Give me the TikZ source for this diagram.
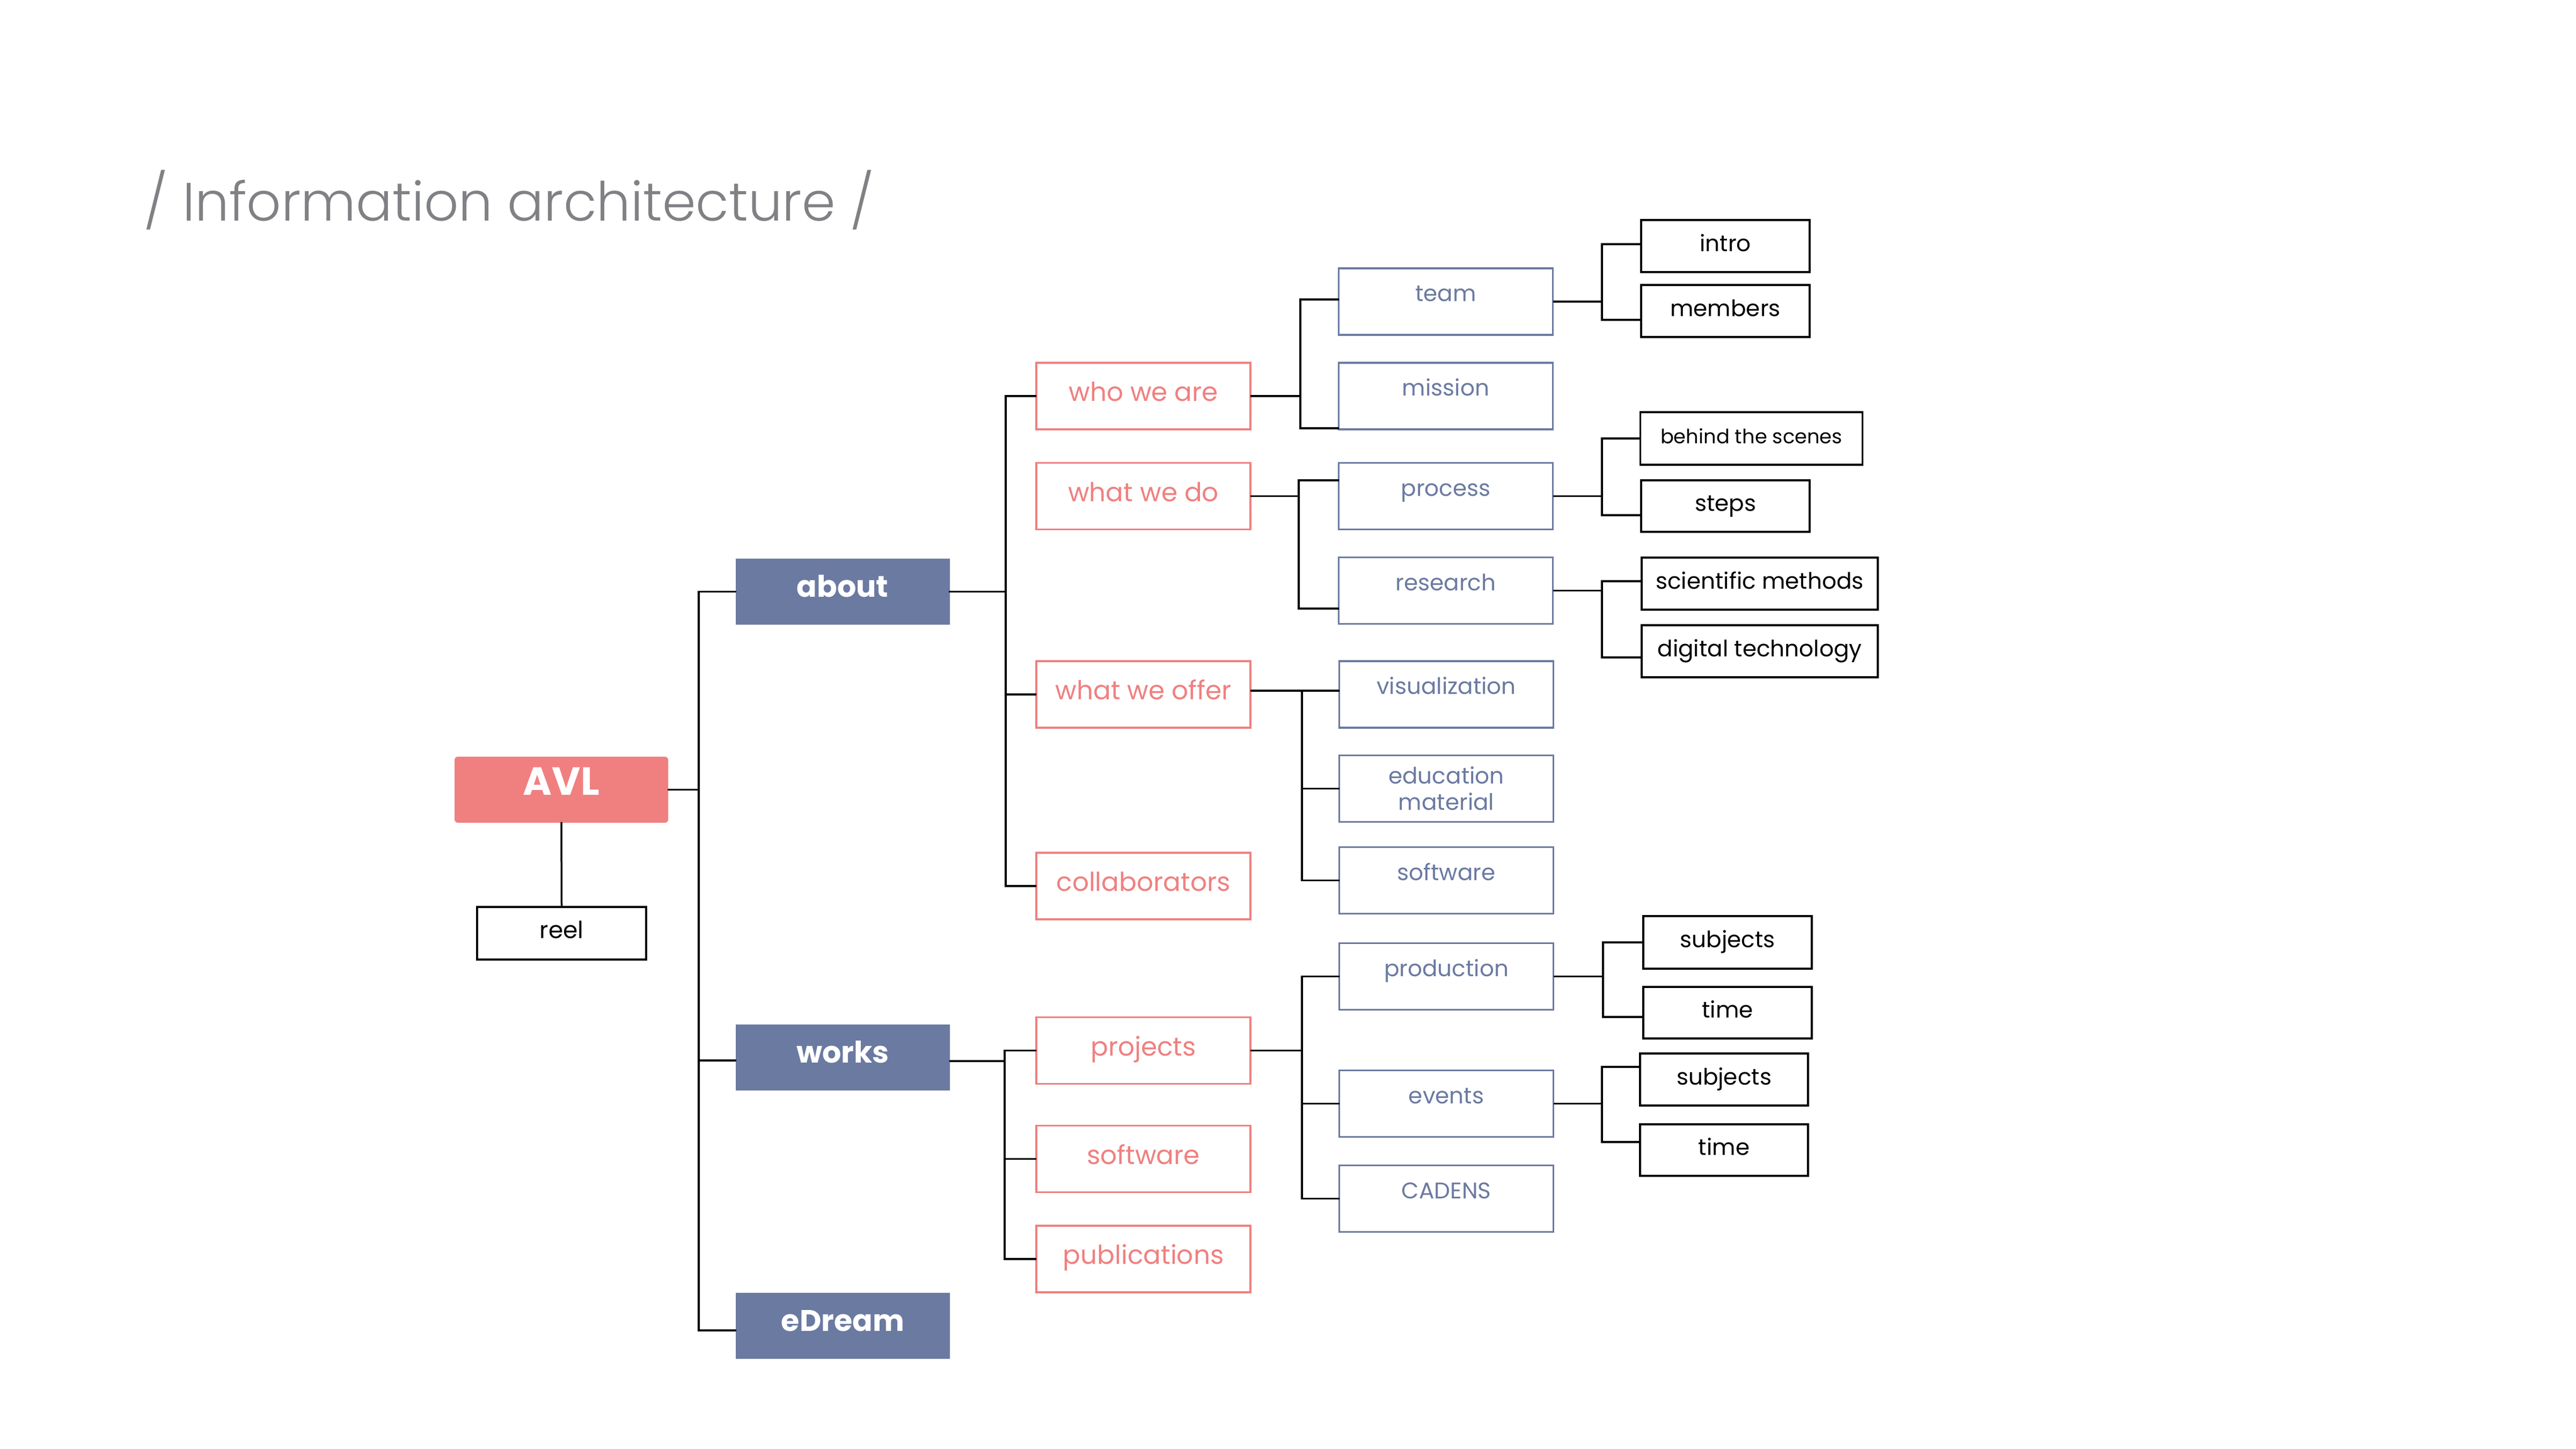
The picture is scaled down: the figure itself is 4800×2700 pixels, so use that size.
\documentclass[tikz,border=0pt]{standalone}
\usepackage{fontspec}
\setmainfont{Poppins}
\newfontfamily\lightfont{Poppins Light}
\definecolor{pinkc}{HTML}{F08080}
\definecolor{bluec}{HTML}{6B7AA1}
\definecolor{graytitle}{HTML}{808184}
\begin{document}
\begin{tikzpicture}[x=0.1mm,y=-0.1mm,
  base/.style={rectangle, inner sep=0pt, align=center},
  lab/.style={text height=1ex, text depth=0pt},
  topbox/.style={base, lab, fill=bluec, text=white, font=\bfseries\fontsize{15.8}{18}\selectfont, minimum width=39.9mm, minimum height=12.3mm},
  avlbox/.style={base, lab, fill=pinkc, text=white, rounded corners=0.6mm, font=\bfseries\fontsize{20.8}{24}\selectfont, minimum width=39.8mm, minimum height=12.3mm},
  pinkbox/.style={base, lab, draw=pinkc, line width=0.35mm, text=pinkc, font=\fontsize{13.8}{16}\selectfont, minimum width=39.9mm, minimum height=12.4mm},
  bluebox/.style={base, lab, text depth=2mm, draw=bluec, line width=0.35mm, text=bluec, font=\fontsize{12}{14}\selectfont, minimum width=39.9mm, minimum height=12.4mm},
  edubox/.style={base, draw=bluec, line width=0.35mm, text=bluec, font=\fontsize{12}{13.9}\selectfont, minimum width=39.9mm, minimum height=12.4mm},
  blackbox/.style={base, lab, draw=black, line width=0.35mm, font=\fontsize{12}{14}\selectfont, minimum height=9.7mm},
  conn/.style={line width=0.35mm, line cap=rect}
]
\fill[white] (0,0) rectangle (4800,2700);
\useasboundingbox (0,0) rectangle (4800,2700);

% title
\node[anchor=base west, inner sep=0pt, font=\lightfont\fontsize{28.6}{34}\selectfont, text=graytitle] (title) at (268,412) {/ Information architecture /};

% level 0/1
\node[avlbox] (avl) at (1046,1471.5) {AVL};
\node[blackbox, minimum width=31.5mm, minimum height=9.8mm, font=\fontsize{12.5}{15}\selectfont] (reel) at (1046.5,1739) {reel};
\node[topbox] (about) at (1570,1102.5) {about};
\node[topbox] (works) at (1570.5,1970.5) {works};
\node[topbox] (edream) at (1570.5,2470.5) {eDream};

% level 2 (pink)
\node[pinkbox] (wwa) at (2130.5,738) {who we are};
\node[pinkbox] (wwd) at (2130.5,924.5) {what we do};
\node[pinkbox] (wwo) at (2130.5,1294) {what we offer};
\node[pinkbox] (collab) at (2130.5,1651) {collaborators};
\node[pinkbox] (projects) at (2130.5,1957.5) {projects};
\node[pinkbox] (wsoft) at (2130.5,2159.5) {software};
\node[pinkbox] (pubs) at (2130.5,2346) {publications};

% level 3 (blue)
\node[bluebox] (team) at (2694,562) {team};
\node[bluebox] (mission) at (2694,738) {mission};
\node[bluebox] (process) at (2694,924.5) {process};
\node[bluebox] (research) at (2694,1100.5) {research};
\node[bluebox] (vis) at (2695,1294) {visualization};
\node[edubox] (edu) at (2695,1469.5) {education\\material};
\node[bluebox] (osoft) at (2695,1640.5) {software};
\node[bluebox] (production) at (2695,1819.5) {production};
\node[bluebox] (events) at (2695,2056.5) {events};
\node[bluebox] (cadens) at (2695,2233.5) {CADENS};

% level 4 (black)
\node[blackbox, minimum width=31.4mm] (intro) at (3215,458.5) {intro};
\node[blackbox, minimum width=31.4mm] (members) at (3215,579.5) {members};
\node[blackbox, minimum width=41.4mm, minimum height=9.8mm, font=\fontsize{10.5}{12}\selectfont] (behind) at (3263.5,817) {behind the scenes};
\node[blackbox, minimum width=31.4mm, minimum height=9.6mm] (steps) at (3215,943) {steps};
\node[blackbox, minimum width=44mm] (sci) at (3279,1087.5) {scientific methods};
\node[blackbox, minimum width=44mm] (digital) at (3279,1213.5) {digital technology};
\node[blackbox, minimum width=31.4mm, minimum height=9.8mm] (subj1) at (3219,1756) {subjects};
\node[blackbox, minimum width=31.4mm, minimum height=9.6mm] (time1) at (3219,1887) {time};
\node[blackbox, minimum width=31.3mm] (subj2) at (3212.5,2011.5) {subjects};
\node[blackbox, minimum width=31.3mm, minimum height=9.6mm] (time2) at (3212.5,2143) {time};

% connectors: root
\coordinate (jroot) at (1302,1472);
\draw[conn] (avl.east) -- (avl.east -| jroot);
\draw[conn] (about.west) -| (jroot) |- ([yshift=-0.85mm]edream.west);
\draw[conn] ([yshift=-0.55mm]works.west) -- ([yshift=-0.55mm]works.west -| jroot);
\draw[conn] (avl.south) -- (reel.north);

% about
\coordinate (jabout) at (1874,1102.5);
\draw[conn] (about.east) -- (jabout);
\draw[conn] (wwa.west) -| (jabout) |- (collab.west);
\draw[conn] (wwo.west) -- (wwo.west -| jabout);

% who we are
\coordinate (jwwa) at (2423,738);
\draw[conn] (wwa.east) -- (jwwa);
\draw[conn] ([yshift=0.4mm]team.west) -| (jwwa) |- ([yshift=0.4mm]mission.south west);

% what we do
\coordinate (jwwd) at (2420,924.5);
\draw[conn] (wwd.east) -- (jwwd);
\draw[conn] ([yshift=2.95mm]process.west) -| (jwwd) |- ([yshift=-3.35mm]research.west);

% what we offer
\coordinate (jwwo) at (2426,1287);
\draw[conn] ([yshift=0.7mm]wwo.east) -- ([yshift=0.7mm]vis.west);
\draw[conn] (jwwo) |- (osoft.west);
\draw[conn] (edu.west) -- (edu.west -| jwwo);

% team
\coordinate (jteam) at (2985,562);
\draw[conn] (team.east) -- (jteam);
\draw[conn] ([yshift=0.35mm]intro.west) -| (jteam) |- ([yshift=-1.65mm]members.west);

% process
\coordinate (jproc) at (2985,924.5);
\draw[conn] (process.east) -- (jproc);
\draw[conn] (behind.west) -| (jproc) |- ([yshift=-1.7mm]steps.west);

% research
\coordinate (jres) at (2985,1100.5);
\draw[conn] (research.east) -- (jres);
\draw[conn] ([yshift=0.45mm]sci.west) -| (jres) |- ([yshift=-1.15mm]digital.west);

% works
\coordinate (jworks) at (1872,1977);
\draw[conn] ([yshift=-0.65mm]works.east) -- (jworks);
\draw[conn] (projects.west) -| (jworks) |- (pubs.west);
\draw[conn] (wsoft.west) -- (wsoft.west -| jworks);

% projects
\coordinate (jproj) at (2426,1957.5);
\draw[conn] (projects.east) -- (jproj);
\draw[conn] (production.west) -| (jproj) |- (cadens.west);
\draw[conn] (events.west) -- (events.west -| jproj);

% production
\coordinate (jprod) at (2987,1819.5);
\draw[conn] (production.east) -- (jprod);
\draw[conn] (subj1.west) -| (jprod) |- ([yshift=-0.8mm]time1.west);

% events
\coordinate (jev) at (2985,2056.5);
\draw[conn] (events.east) -- (jev);
\draw[conn] ([yshift=2.35mm]subj2.west) -| (jev) |- ([yshift=1.5mm]time2.west);
\end{tikzpicture}
\end{document}
